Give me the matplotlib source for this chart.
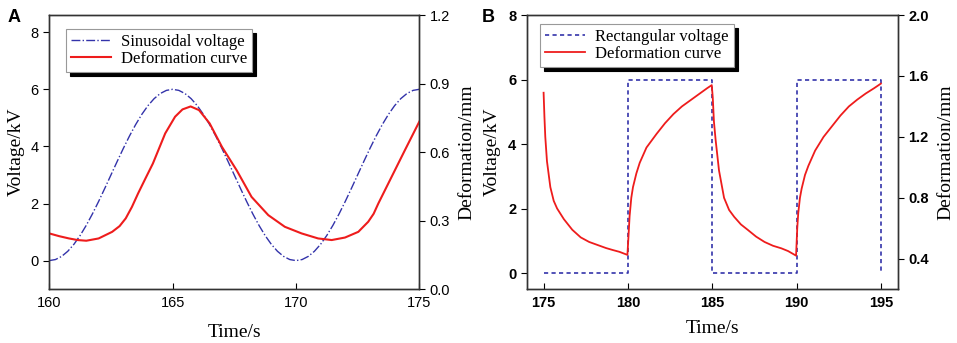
import matplotlib
matplotlib.use('Agg')
import matplotlib.pyplot as plt

# panel A: sinusoidal voltage (kV) and deformation (mm)
tA_volt = [160 + 0.25 * i for i in range(61)]
vA_volt = [0.0, 0.037, 0.147, 0.327, 0.573, 0.879, 1.237, 1.638, 2.073, 2.531, 3.0,
           3.469, 3.927, 4.362, 4.763, 5.121, 5.427, 5.673, 5.853, 5.963, 6.0,
           5.963, 5.853, 5.673, 5.427, 5.121, 4.763, 4.362, 3.927, 3.469, 3.0,
           2.531, 2.073, 1.638, 1.237, 0.879, 0.573, 0.327, 0.147, 0.037, 0.0,
           0.037, 0.147, 0.327, 0.573, 0.879, 1.237, 1.638, 2.073, 2.531, 3.0,
           3.469, 3.927, 4.362, 4.763, 5.121, 5.427, 5.673, 5.853, 5.963, 6.0]
tA_def = [160, 160.4, 160.8, 161.15, 161.5, 162.0, 162.55, 162.85, 163.1, 163.35, 163.6,
          163.9, 164.2, 164.7, 165.1, 165.4, 165.73, 166.07, 166.5, 167.0, 167.6, 168.2,
          168.88, 169.55, 170.23, 170.9, 171.45, 171.99, 172.53, 172.93, 173.15, 173.34,
          173.88, 174.42, 175]
dA_def = [0.244, 0.232, 0.222, 0.215, 0.212, 0.222, 0.251, 0.276, 0.310, 0.360, 0.419,
          0.485, 0.550, 0.682, 0.755, 0.787, 0.800, 0.784, 0.726, 0.623, 0.520, 0.404,
          0.324, 0.273, 0.244, 0.222, 0.215, 0.226, 0.251, 0.295, 0.330, 0.375,
          0.492, 0.609, 0.733]

# panel B: rectangular voltage (kV) and deformation (mm)
tB_volt = [175, 180, 180, 185, 185, 190, 190, 195, 195]
vB_volt = [0, 0, 6, 6, 0, 0, 6, 6, 0]
tB_def = [175, 175.05, 175.1, 175.2, 175.4, 175.6, 175.8, 176.2, 176.7, 177.2, 177.7,
          178.2, 178.7, 179.1, 179.5, 179.97,
          180.04, 180.1, 180.2, 180.3, 180.5, 180.7, 181.1, 181.7, 182.2, 182.7, 183.2,
          183.7, 184.2, 184.7, 184.97,
          185.03, 185.1, 185.2, 185.4, 185.7, 186.0, 186.3, 186.7, 187.1, 187.6, 188.1,
          188.6, 189.1, 189.5, 189.97,
          190.04, 190.1, 190.2, 190.3, 190.5, 190.7, 191.1, 191.6, 192.1, 192.6, 193.1,
          193.6, 194.1, 194.6, 195]
dB_def = [1.49, 1.33, 1.20, 1.04, 0.87, 0.78, 0.73, 0.66, 0.59, 0.54, 0.51,
          0.49, 0.47, 0.457, 0.445, 0.425,
          0.56, 0.68, 0.80, 0.87, 0.96, 1.03, 1.13, 1.22, 1.29, 1.35, 1.40,
          1.44, 1.48, 1.52, 1.54,
          1.46, 1.30, 1.18, 0.98, 0.80, 0.72, 0.675, 0.625, 0.59, 0.545, 0.51,
          0.485, 0.468, 0.45, 0.42,
          0.60, 0.70, 0.80, 0.86, 0.95, 1.01, 1.11, 1.20, 1.27, 1.34, 1.40,
          1.445, 1.485, 1.52, 1.55]

BLUE = '#3333aa'
RED = '#ee1c1c'
SANS = 'Liberation Sans'
SERIF = 'Liberation Serif'

fig = plt.figure(figsize=(9.57, 3.43), dpi=100)


def style_axes(ax, ax2, bold=False):
    w = 'bold' if bold else 'normal'
    for a in (ax, ax2):
        for s in a.spines.values():
            s.set_linewidth(1.0)
            s.set_color('#333333')
        for lab in a.get_xticklabels() + a.get_yticklabels():
            lab.set_fontfamily(SANS)
            lab.set_fontsize(10.5)
            lab.set_fontweight(w)
    ax.tick_params(axis='x', direction='in', length=4, pad=5)
    ax.tick_params(axis='y', direction='out', length=4)
    ax2.tick_params(axis='y', direction='out', length=4)


def add_legend(ax2, handles, labels, x, y):
    leg = ax2.legend(handles, labels, loc='upper left', bbox_to_anchor=(x, y),
                     borderaxespad=0, fancybox=False, handlelength=2.4,
                     prop={'family': SERIF, 'size': 12}, labelspacing=0.05,
                     borderpad=0.3, handletextpad=0.6, framealpha=1,
                     shadow={'color': 'black', 'alpha': 1, 'ox': 3, 'oy': -3})
    leg.get_frame().set_edgecolor('#999999')
    leg.get_frame().set_linewidth(0.8)


# ---- panel A
ax = fig.add_axes([0.0515, 0.157, 0.3866, 0.799])
ax2 = ax.twinx()
l1, = ax.plot(tA_volt, vA_volt, color=BLUE, lw=1.0, ls='-.')
l2, = ax2.plot(tA_def, dA_def, color=RED, lw=1.5)
ax.set_xlim(160, 175)
ax.set_ylim(-1, 8.6)
ax2.set_ylim(0, 1.2)
ax.set_xticks([160, 165, 170, 175])
ax.set_yticks([0, 2, 4, 6, 8])
ax2.set_yticks([0.0, 0.3, 0.6, 0.9, 1.2])
ax.set_xlabel('Time/s', fontfamily=SERIF, fontsize=14, labelpad=10)
ax.set_ylabel('Voltage/kV', fontfamily=SERIF, fontsize=14, labelpad=4)
ax2.set_ylabel('Deformation/mm', fontfamily=SERIF, fontsize=14, labelpad=6)
style_axes(ax, ax2)
add_legend(ax2, [l1, l2], ['Sinusoidal voltage', 'Deformation curve'], 0.045, 0.949)
fig.text(0.008, 0.975, 'A', fontfamily=SANS, fontweight='bold', fontsize=13, va='top')

# ---- panel B
bx = fig.add_axes([0.5504, 0.157, 0.3877, 0.799])
bx2 = bx.twinx()
m1, = bx.plot(tB_volt, vB_volt, color=BLUE, lw=1.2, ls=(0, (2.5, 2)))
m2, = bx2.plot(tB_def, dB_def, color=RED, lw=1.3)
bx.set_xlim(174, 196)
bx.set_ylim(-0.5, 8)
bx2.set_ylim(0.2, 2.0)
bx.set_xticks([175, 180, 185, 190, 195])
bx.set_yticks([0, 2, 4, 6, 8])
bx2.set_yticks([0.4, 0.8, 1.2, 1.6, 2.0])
bx.set_xlabel('Time/s', fontfamily=SERIF, fontsize=14, labelpad=7)
bx.set_ylabel('Voltage/kV', fontfamily=SERIF, fontsize=14, labelpad=5)
bx2.set_ylabel('Deformation/mm', fontfamily=SERIF, fontsize=14, labelpad=6)
style_axes(bx, bx2, bold=True)
add_legend(bx2, [m1, m2], ['Rectangular voltage', 'Deformation curve'], 0.036, 0.967)
fig.text(0.503, 0.975, 'B', fontfamily=SANS, fontweight='bold', fontsize=13, va='top')

fig.savefig('out.png', dpi=100)
